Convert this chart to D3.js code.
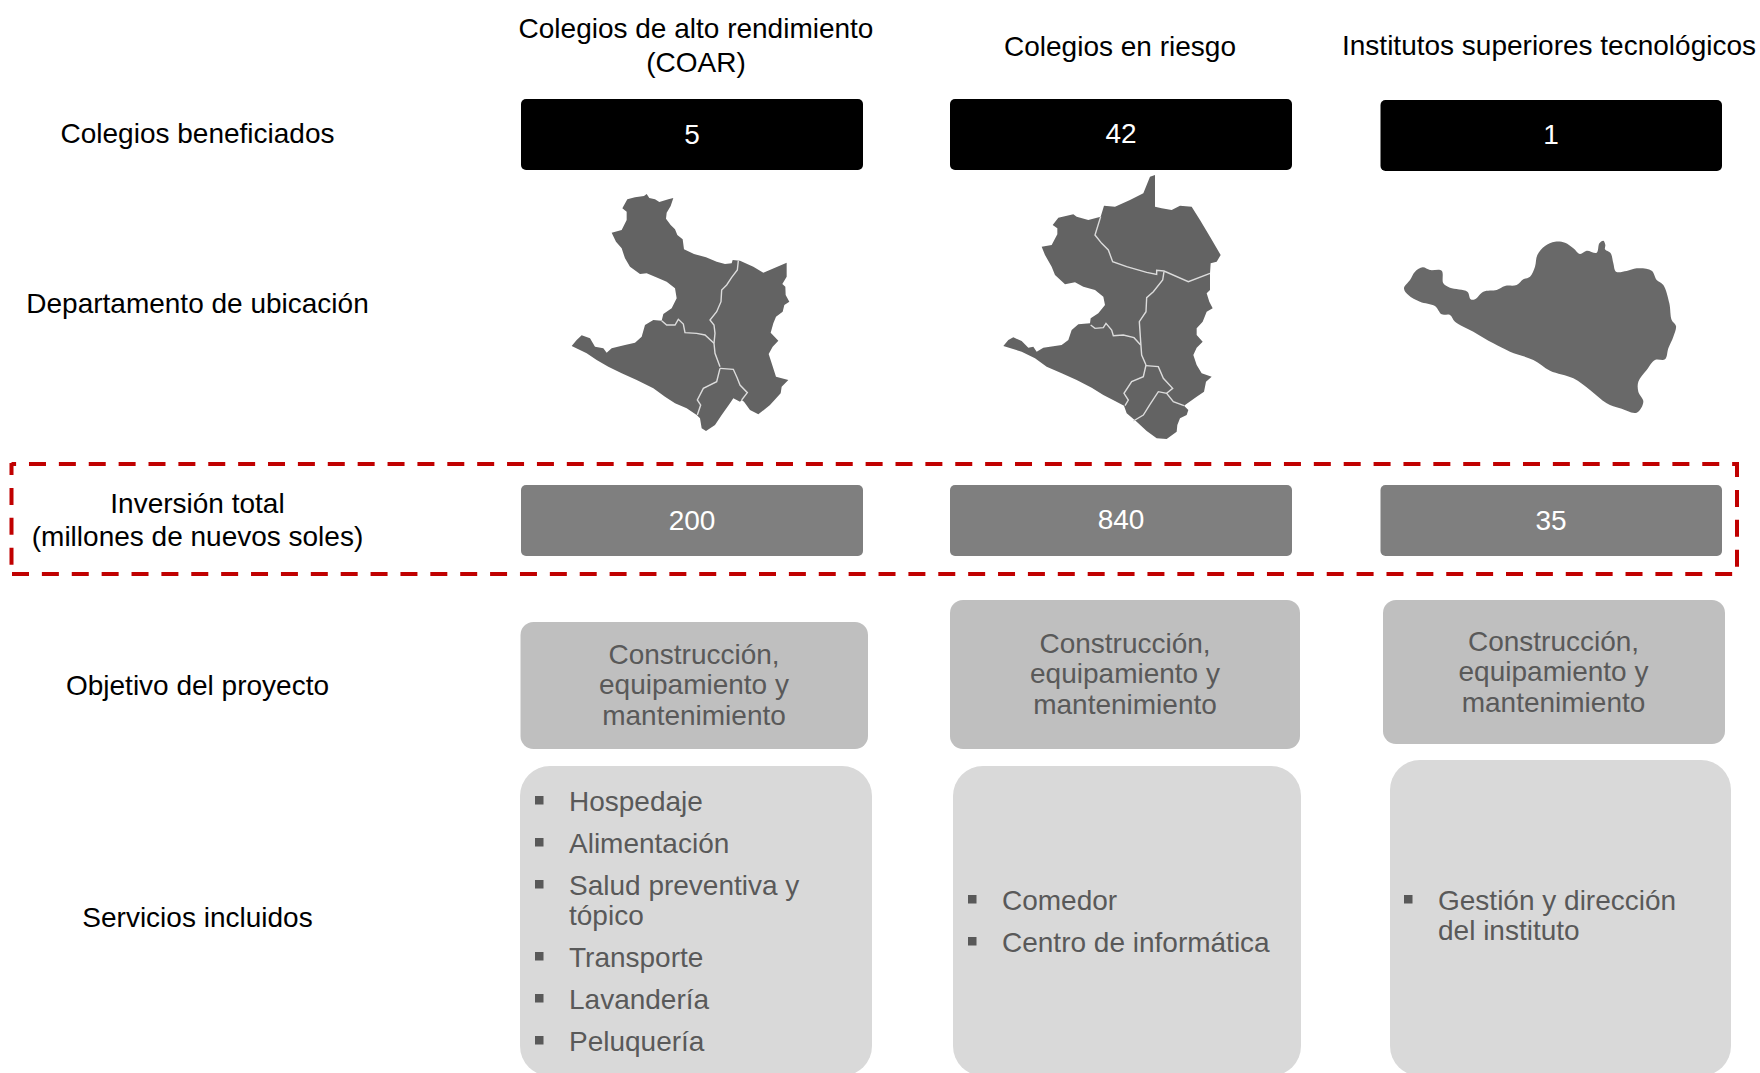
<!DOCTYPE html>
<html>
<head>
<meta charset="utf-8">
<script src="https://cdn.jsdelivr.net/npm/d3@7"></script>
<style>
  html, body { margin: 0; padding: 0; background: #fff; }
  text { font-family: "Liberation Sans", Arial, sans-serif; font-size: 28px; }
</style>
</head>
<body>
<div id="chart"></div>
<script>
// values
var columnTitles = [["Colegios de alto rendimiento", "(COAR)"], ["Colegios en riesgo"], ["Institutos superiores tecnológicos"]];
var rowTitles = [["Colegios beneficiados"], ["Departamento de ubicación"], ["Inversión total", "(millones de nuevos soles)"], ["Objetivo del proyecto"], ["Servicios incluidos"]];
var colegios = [5, 42, 1];
var inversion = [200, 840, 35];
var objetivo = ["Construcción,", "equipamiento y", "mantenimiento"];
var servicios = [
  [["Hospedaje"], ["Alimentación"], ["Salud preventiva y", "tópico"], ["Transporte"], ["Lavandería"], ["Peluquería"]],
  [["Comedor"], ["Centro de informática"]],
  [["Gestión y dirección", "del instituto"]]
];

// map outlines (units: 1/3 px)
var map1Outline = [[262,88],[285,82],[312,78],[320,72],[328,84],[345,88],[358,96],[385,88],[400,84],[392,108],[380,128],[378,146],[392,165],[405,178],[412,195],[428,208],[432,238],[462,252],[498,262],[530,275],[555,282],[575,280],[578,270],[600,272],[640,290],[670,308],[740,278],[740,320],[727,342],[736,350],[737,375],[748,395],[733,405],[728,425],[708,440],[700,460],[692,488],[715,512],[698,530],[686,552],[695,580],[708,620],[745,630],[725,650],[722,670],[690,705],[655,733],[630,720],[612,695],[605,690],[600,695],[580,685],[570,700],[545,735],[525,765],[498,783],[485,775],[480,745],[470,735],[440,715],[405,700],[375,680],[340,655],[290,630],[245,610],[205,590],[170,570],[140,550],[95,528],[110,510],[125,496],[150,505],[165,530],[190,535],[200,548],[215,535],[255,525],[285,518],[305,500],[315,465],[340,450],[365,452],[370,432],[395,415],[410,385],[405,355],[380,335],[345,320],[320,310],[300,312],[270,290],[255,265],[245,235],[228,215],[215,188],[245,180],[260,150],[260,125],[247,115]];
var map1Borders = [
  [[595,272],[592,300],[575,322],[560,345],[545,360],[543,395],[530,425],[510,450],[522,465],[525,490],[522,520],[525,550],[540,590]],
  [[365,452],[380,465],[405,465],[415,448],[430,462],[435,488],[470,490],[495,495],[522,520]],
  [[540,595],[530,635],[490,655],[472,690],[482,705],[472,735]],
  [[540,595],[580,598],[592,625],[600,645],[622,668],[605,690]]
];
var map2Outline = [[525,30],[525,125],[545,130],[575,135],[600,122],[635,125],[660,165],[690,215],[722,270],[710,290],[692,295],[690,325],[690,375],[680,385],[688,410],[698,430],[680,440],[668,470],[650,490],[650,510],[668,530],[650,548],[640,570],[650,600],[665,625],[695,635],[678,650],[672,680],[650,695],[612,722],[625,735],[620,750],[600,760],[592,780],[590,800],[560,822],[530,820],[500,798],[470,770],[440,745],[432,722],[405,708],[370,690],[335,668],[290,645],[245,625],[200,605],[165,580],[125,560],[70,543],[85,525],[100,517],[125,528],[145,548],[160,545],[170,560],[190,548],[245,540],[265,525],[275,495],[295,478],[330,475],[332,460],[355,445],[375,420],[370,395],[345,375],[310,365],[285,352],[255,358],[225,330],[215,305],[195,270],[185,245],[215,240],[232,208],[232,190],[218,180],[235,158],[280,148],[290,155],[325,165],[362,155],[372,122],[405,125],[450,105],[490,85],[510,35]];
var map2Borders = [
  [[362,155],[345,210],[365,235],[385,255],[398,290],[440,305],[500,322],[530,328],[530,316],[552,318],[625,350],[690,325]],
  [[552,320],[548,345],[520,380],[500,398],[498,440],[478,470],[482,530],[485,570],[498,600]],
  [[332,480],[345,490],[370,488],[378,475],[395,495],[400,512],[430,510],[462,518],[482,540]],
  [[498,600],[490,635],[455,650],[432,685],[445,705],[435,722]],
  [[498,602],[535,605],[550,640],[578,670],[560,685]],
  [[460,768],[490,750],[510,718],[535,680],[560,685],[580,710],[612,722]]
];
var map3Outline = [[72,205],[90,180],[105,155],[128,142],[150,150],[185,152],[190,190],[210,203],[262,215],[272,238],[285,238],[310,215],[350,210],[375,198],[410,195],[430,178],[450,170],[465,140],[472,105],[495,78],[525,65],[555,68],[580,85],[600,102],[620,92],[650,98],[658,70],[670,62],[676,75],[675,88],[692,100],[700,130],[708,155],[740,153],[770,145],[815,152],[830,180],[850,195],[868,250],[875,300],[888,318],[880,350],[865,385],[855,418],[825,420],[800,450],[775,485],[775,515],[790,545],[770,578],[720,565],[680,550],[630,510],[580,475],[510,452],[460,420],[390,395],[340,370],[280,335],[225,305],[210,285],[185,283],[165,258],[120,245],[85,225]];
var mapOutlines = [map1Outline, map2Outline, map3Outline];
var mapBorders = [map1Borders, map2Borders, []];

// layout
var width = 1760, height = 1073;
var labelCentre = 197.5;
var titleCentres = [696, 1120, 1549];
var titleBaselines = [[38, 72], [56], [55]];
var boxLeft = [521, 950, 1380.5], boxRight = [863, 1292, 1722];
var valueCentres = [692, 1121, 1551];
var blackBaselines = [143.5, 142.5, 144];
var grayBaselines = [529.5, 528.5, 529.5];
var rowLabelBaselines = [[143], [313], [513, 546], [695], [927]];
var objBox = [[520.5, 868, 622, 749], [950, 1300, 600, 749], [1383, 1725, 600, 744]];
var objCentres = [694, 1125, 1553.5];
var objBaselines = [664, 653, 651];
var servBox = [[520, 872, 766], [953, 1301, 766], [1390, 1731, 760]];
var bulletX = [535, 968, 1404], servTextX = [569, 1002, 1438];
var servBaselines = [[[811], [853], [895, 925], [967], [1009], [1051]], [[910], [952]], [[910, 940]]];
var mapOrigin = [[540, 170], [980, 165], [1380, 220]];
// sides of the red frame: x1, y1, x2, y2, dash offset
var frameSides = [
  [11.5, 464, 1737, 464, 12.4],
  [1737, 462, 1737, 568, 2],
  [12, 574, 1733, 574, 0],
  [11.5, 463, 11.5, 566, 5]
];

var svg = d3.select("#chart").append("svg")
  .attr("width", width).attr("height", height)
  .style("display", "block");

function addLines(sel, lines, x, baselines, fill, anchor) {
  sel.selectAll(null)
    .data(lines)
    .enter()
    .append("text")
    .attr("x", x)
    .attr("y", function(d, i) { return baselines[i]; })
    .attr("text-anchor", anchor || "middle")
    .attr("fill", fill)
    .text(function(d) { return d; });
}

// column titles and row labels
columnTitles.forEach(function(t, i) {
  addLines(svg.append("g"), t, titleCentres[i], titleBaselines[i], "#000");
});
rowTitles.forEach(function(t, i) {
  addLines(svg.append("g"), t, labelCentre, rowLabelBaselines[i], "#000");
});

// black and gray value boxes
function addValueBoxes(values, tops, h, fill, baselines) {
  var g = svg.append("g");
  g.selectAll("rect").data(values).enter().append("rect")
    .attr("x", function(d, i) { return boxLeft[i]; })
    .attr("y", function(d, i) { return tops[i]; })
    .attr("width", function(d, i) { return boxRight[i] - boxLeft[i]; })
    .attr("height", h)
    .attr("rx", 5)
    .attr("fill", fill);
  g.selectAll("text").data(values).enter().append("text")
    .attr("x", function(d, i) { return valueCentres[i]; })
    .attr("y", function(d, i) { return baselines[i]; })
    .attr("text-anchor", "middle")
    .attr("fill", "#fff")
    .text(function(d) { return d; });
}
addValueBoxes(colegios, [99, 99, 100], 71, "#000", blackBaselines);
addValueBoxes(inversion, [485, 485, 485], 71, "#7f7f7f", grayBaselines);

// maps
mapOutlines.forEach(function(outline, i) {
  var xScale = d3.scaleLinear().domain([0, 840]).range([mapOrigin[i][0], mapOrigin[i][0] + 280]);
  var yScale = d3.scaleLinear().domain([0, 840]).range([mapOrigin[i][1], mapOrigin[i][1] + 280]);
  var line = d3.line()
    .x(function(d) { return xScale(d[0]); })
    .y(function(d) { return yScale(d[1]); });
  var area = line.curve(i == 2 ? d3.curveCatmullRomClosed : d3.curveLinearClosed);
  var g = svg.append("g").attr("class", "map");
  g.append("path")
    .attr("d", area(outline))
    .attr("fill", i == 2 ? "#696969" : "#636363");
  line.curve(d3.curveLinear);
  g.selectAll(".border").data(mapBorders[i]).enter().append("path")
    .attr("class", "border")
    .attr("d", line)
    .attr("fill", "none")
    .attr("stroke", "#dcdcdc")
    .attr("stroke-width", 1.4);
});

// red dashed frame, each side has its own dash phase
svg.append("g").selectAll("line").data(frameSides).enter().append("line")
  .attr("x1", function(d) { return d[0]; })
  .attr("y1", function(d) { return d[1]; })
  .attr("x2", function(d) { return d[2]; })
  .attr("y2", function(d) { return d[3]; })
  .attr("stroke", "#c00000")
  .attr("stroke-width", 4)
  .attr("stroke-dasharray", "17,12.88")
  .attr("stroke-dashoffset", function(d) { return d[4]; });

// objective boxes
objBox.forEach(function(b, i) {
  var g = svg.append("g");
  g.append("rect")
    .attr("x", b[0]).attr("y", b[2])
    .attr("width", b[1] - b[0]).attr("height", b[3] - b[2])
    .attr("rx", 13)
    .attr("fill", "#bfbfbf");
  addLines(g, objetivo, objCentres[i],
    [objBaselines[i], objBaselines[i] + 30, objBaselines[i] + 61], "#595959");
});

// service boxes, they run off the bottom of the page
servicios.forEach(function(items, i) {
  var b = servBox[i];
  var g = svg.append("g");
  g.append("rect")
    .attr("x", b[0]).attr("y", b[2])
    .attr("width", b[1] - b[0]).attr("height", 1076 - b[2])
    .attr("rx", 30)
    .attr("fill", "#d9d9d9");
  items.forEach(function(lines, j) {
    var baselines = servBaselines[i][j];
    g.append("rect")
      .attr("x", bulletX[i]).attr("y", baselines[0] - 15)
      .attr("width", 8.5).attr("height", 8.5)
      .attr("fill", "#595959");
    addLines(g, lines, servTextX[i], baselines, "#595959", "start");
  });
});
</script>
</body>
</html>
